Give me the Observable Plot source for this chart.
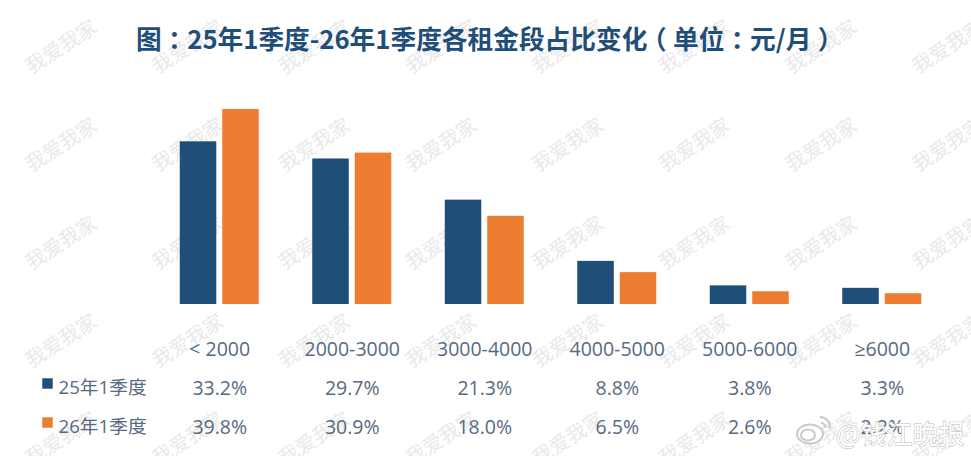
<!DOCTYPE html>
<html lang="zh">
<head>
<meta charset="utf-8">
<script src="https://cdn.jsdelivr.net/npm/d3@7"></script>
<script src="https://cdn.jsdelivr.net/npm/@observablehq/plot@0.6"></script>
<style>
  html,body{margin:0;padding:0;background:#fff;}
  #page{position:relative;width:971px;height:456px;overflow:hidden;}
  #title{position:absolute;left:0;top:0;width:971px;height:70px;text-align:center;
    font:700 25.7px/76px "Noto Sans CJK SC",sans-serif;color:#1f4e79;white-space:nowrap;z-index:2;text-indent:2px;}
  #title .p{font-feature-settings:"halt";margin:0 .25em;}
  #wm{position:absolute;left:0;top:0;z-index:0;filter:blur(.5px);}
  #chart{position:absolute;left:0;top:70px;z-index:1;}
  #chart svg{background:transparent!important;}
  #weibo{position:absolute;left:0;top:0;z-index:3;}
</style>
</head>
<body>
<div id="page">
  <svg id="wm" width="971" height="456"></svg>
  <div id="title">图<span class="p">：</span>25年1季度-26年1季度各租金段占比变化<span class="p">（</span>单位<span class="p">：</span>元/月<span class="p">）</span></div>
  <div id="chart"></div>
  <svg id="weibo" width="971" height="456"></svg>
</div>
<script>
const categories = ["< 2000","2000-3000","3000-4000","4000-5000","5000-6000","≥6000"];
const series = ["25年1季度","26年1季度"];
const values25 = [33.2,29.7,21.3,8.8,3.8,3.3];
const values26 = [39.8,30.9,18.0,6.5,2.6,2.2];
const colors = ["#1f4e79","#ed7d31"];
const textColor = "#566a82";
const bodyFont = "'Open Sans','Noto Sans CJK SC',sans-serif";

const rows = categories.flatMap((c,i)=>[
  {category:c,series:series[0],value:values25[i]},
  {category:c,series:series[1],value:values26[i]}
]);
const rows25 = rows.filter(d=>d.series===series[0]);
const rows26 = rows.filter(d=>d.series===series[1]);
const pct = d=>d.value.toFixed(1)+"%";
const cellStyle = {fx:"category",text:pct,frameAnchor:"bottom",lineAnchor:"middle",fontSize:19.5,fill:textColor};
const legendStyle = {facet:"super",frameAnchor:"bottom-left",textAnchor:"start",lineAnchor:"middle",dx:-95,fontSize:18.7,fill:textColor};
const swatchStyle = {facet:"super",frameAnchor:"bottom-left",symbol:"square",r:5.9,dx:-106};

const chart = Plot.plot({
  width:971,height:386,
  marginTop:38,marginBottom:152,marginLeft:153,marginRight:23,
  style:{fontFamily:bodyFont,background:"transparent",overflow:"visible"},
  fx:{domain:categories,padding:0,round:false,label:null},
  x:{domain:series,axis:null,round:false,paddingInner:0.14,paddingOuter:0.63},
  y:{domain:[0,40],axis:null},
  color:{domain:series,range:colors},
  marks:[
    Plot.barY(rows,{fx:"category",x:"series",y:"value",fill:"series"}),
    Plot.axisFx({anchor:"bottom",tickSize:0,tickPadding:38,fontSize:19.5,fill:textColor,label:null}),
    Plot.text(rows25,{...cellStyle,dy:84}),
    Plot.text(rows26,{...cellStyle,dy:123}),
    Plot.text([series[0]],{...legendStyle,text:d=>d,dy:84}),
    Plot.text([series[1]],{...legendStyle,text:d=>d,dy:123}),
    Plot.dot([series[0]],{...swatchStyle,fill:colors[0],dy:79}),
    Plot.dot([series[1]],{...swatchStyle,fill:colors[1],dy:118})
  ]
});
document.getElementById("chart").append(chart);

// Background "我爱我家" watermark tiled across the page
const wmText = "我爱我家";
const wm = d3.select("#wm");
d3.range(0,8).forEach(c=>d3.range(0,5).forEach(r=>{
  const px = 62+c*126.7, py = 48+r*98;
  wm.append("text").attr("transform",`translate(${px},${py}) rotate(-33)`)
    .attr("text-anchor","middle").attr("dominant-baseline","middle")
    .attr("font-family","Noto Sans CJK SC").attr("font-size",20).attr("font-weight",500)
    .attr("fill","#ebebeb").text(wmText);
}));

// Weibo source stamp, bottom right
const wb = d3.select("#weibo");
const g = wb.append("g").attr("fill","none").attr("stroke","#c9c9c9");
g.append("ellipse").attr("cx",810).attr("cy",434).attr("rx",13).attr("ry",9.5).attr("fill","#fff").attr("stroke-width",2);
g.append("ellipse").attr("cx",808).attr("cy",435).attr("rx",7).attr("ry",5.5).attr("stroke-width",2);
g.append("path").attr("d","M820 417a10 10 0 0 1 10 11").attr("stroke-width",2);
g.append("path").attr("d","M821 423a4.5 4.5 0 0 1 4.5 5").attr("stroke-width",2);
wb.append("text").attr("x",836).attr("y",443.5).attr("font-family","Noto Sans CJK SC").attr("font-size",26)
  .attr("fill","#fff").attr("stroke","#bdbdbd").attr("stroke-width",1.1).attr("paint-order","stroke").text("@钱江晚报");
</script>
</body>
</html>
